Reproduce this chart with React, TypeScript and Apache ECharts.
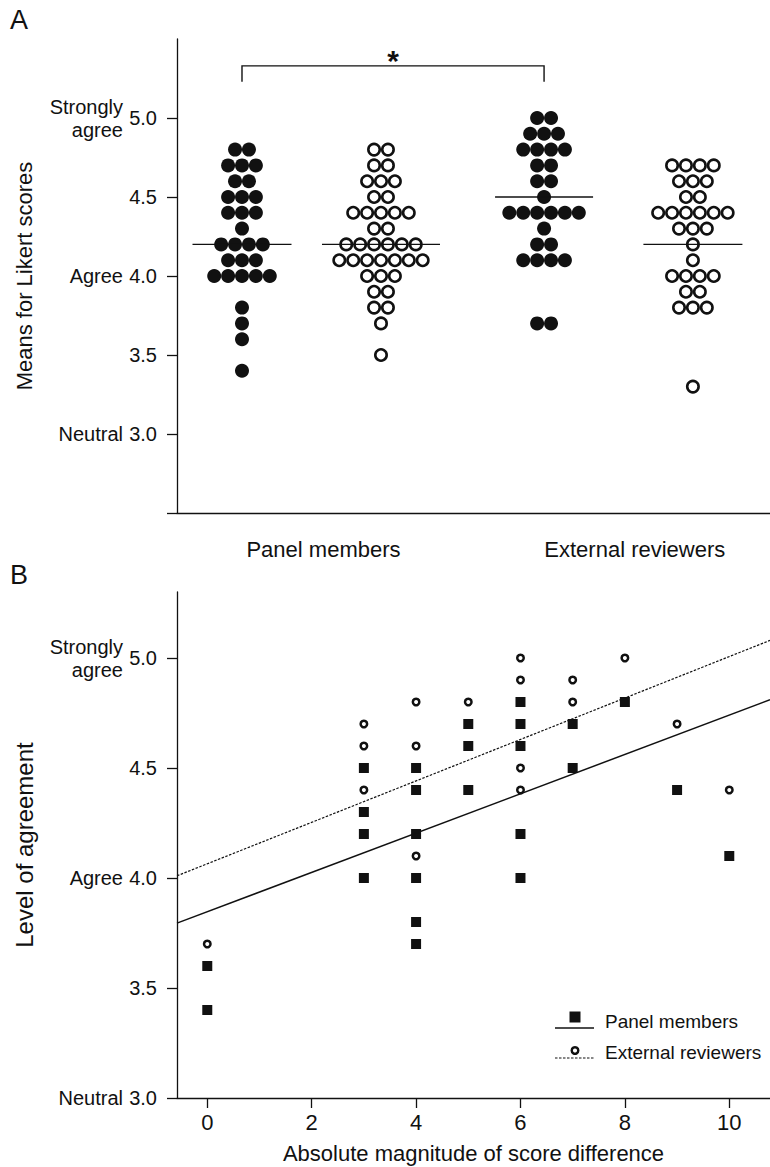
import React, { useEffect, useRef } from "react";
import * as echarts from "echarts";

// ---------- Data (panel A: means for Likert scores, one value per dot) ----------
const categoryNames = ["Panel members", "External reviewers"];
const panelFilled = [4.8, 4.8, 4.7, 4.7, 4.7, 4.6, 4.6, 4.5, 4.5, 4.5, 4.4, 4.4, 4.4, 4.3, 4.2, 4.2, 4.2, 4.2, 4.1, 4.1, 4.1, 4.0, 4.0, 4.0, 4.0, 4.0, 3.8, 3.7, 3.6, 3.4];
const panelOpen = [4.8, 4.8, 4.7, 4.7, 4.6, 4.6, 4.6, 4.5, 4.5, 4.4, 4.4, 4.4, 4.4, 4.4, 4.3, 4.3, 4.2, 4.2, 4.2, 4.2, 4.2, 4.2, 4.1, 4.1, 4.1, 4.1, 4.1, 4.1, 4.1, 4.0, 4.0, 4.0, 3.9, 3.9, 3.8, 3.8, 3.7, 3.5];
const externalFilled = [5.0, 5.0, 4.9, 4.9, 4.9, 4.8, 4.8, 4.8, 4.8, 4.7, 4.7, 4.6, 4.6, 4.5, 4.4, 4.4, 4.4, 4.4, 4.4, 4.4, 4.3, 4.2, 4.2, 4.1, 4.1, 4.1, 4.1, 3.7, 3.7];
const externalOpen = [4.7, 4.7, 4.7, 4.7, 4.6, 4.6, 4.6, 4.5, 4.5, 4.4, 4.4, 4.4, 4.4, 4.4, 4.4, 4.3, 4.3, 4.3, 4.2, 4.1, 4.0, 4.0, 4.0, 4.0, 3.9, 3.9, 3.8, 3.8, 3.8, 3.3];
const groupMeans = [4.2, 4.2, 4.5, 4.2];
const likertTicks = [3.0, 3.5, 4.0, 4.5, 5.0];

// ---------- Data (panel B: level of agreement vs score difference) ----------
const magnitudeTicks = [0, 2, 4, 6, 8, 10];
const panelPoints = [
  [0, 3.6], [0, 3.4],
  [3, 4.5], [3, 4.3], [3, 4.2], [3, 4.0],
  [4, 4.5], [4, 4.4], [4, 4.2], [4, 4.0], [4, 3.8], [4, 3.7],
  [5, 4.7], [5, 4.6], [5, 4.4],
  [6, 4.8], [6, 4.7], [6, 4.6], [6, 4.2], [6, 4.0],
  [7, 4.7], [7, 4.5],
  [8, 4.8],
  [9, 4.4],
  [10, 4.1],
];
const externalPoints = [
  [0, 3.7],
  [3, 4.7], [3, 4.6], [3, 4.4],
  [4, 4.8], [4, 4.6], [4, 4.1],
  [5, 4.8],
  [6, 5.0], [6, 4.9], [6, 4.5], [6, 4.4],
  [7, 4.9], [7, 4.8],
  [8, 5.0],
  [9, 4.7],
  [10, 4.4],
];
const panelFit = [[-0.58, 3.795], [10.78, 4.81]];
const externalFit = [[-0.58, 4.01], [10.78, 5.08]];

// ---------- Layout / style ----------
const FONT = "'Liberation Sans', Arial, Helvetica, sans-serif";
const INK = "#111";
const GROUP_POS = [0.1096, 0.344, 0.619, 0.87];
const LABEL_POS = [0.247, 0.772];
const MEAN_HALF = [49.5, 59, 49, 49.5];
const DOT_STEP = 13.9;

function swarm(values: number[], pos: number) {
  const counts = new Map<number, number>();
  values.forEach((v) => counts.set(v, (counts.get(v) || 0) + 1));
  const seen = new Map<number, number>();
  return values.map((v) => {
    const n = counts.get(v) as number;
    const i = seen.get(v) || 0;
    seen.set(v, i + 1);
    return [pos, v, i - (n - 1) / 2];
  });
}

function dotSeries(values: number[], pos: number, open: boolean) {
  return {
    type: "custom",
    xAxisIndex: 0,
    yAxisIndex: 0,
    clip: false,
    data: swarm(values, pos),
    renderItem: (_p: any, api: any) => {
      const c = api.coord([api.value(0), api.value(1)]);
      const cx = c[0] + api.value(2) * DOT_STEP;
      return open
        ? { type: "circle", shape: { cx, cy: c[1], r: 5.7 }, style: { fill: "#fff", stroke: INK, lineWidth: 2.6 } }
        : { type: "circle", shape: { cx, cy: c[1], r: 7 }, style: { fill: INK } };
    },
  };
}

const wordFormatter = (v: number) =>
  v === 5 ? "{s|Strongly}\n{g|agree}" : v === 4 ? "{s|Agree}" : v === 3 ? "{s|Neutral}" : "";
const wordRich = {
  s: { fontSize: 20, lineHeight: 23, color: INK, fontFamily: FONT },
  g: { fontSize: 20, lineHeight: 23, color: INK, fontFamily: FONT, padding: [0, 0, 0, 11] },
};

export default function App() {
  const ref = useRef<HTMLDivElement>(null);
  useEffect(() => {
    if (!ref.current) return;
    const chart = echarts.init(ref.current, null, { renderer: "svg" });
    const axisLine = { show: true, onZero: false, lineStyle: { color: INK, width: 1.3 } };
    const option: any = {
      animation: false,
      textStyle: { fontFamily: FONT, color: INK },
      grid: [
        { left: 177, width: 593, top: 39, height: 474, outerBoundsMode: "none" },
        { left: 177, width: 593, top: 592, height: 506, outerBoundsMode: "none" },
      ],
      xAxis: [
        {
          type: "value", gridIndex: 0, min: 0, max: 1, position: "bottom",
          axisLine, axisTick: { show: false }, splitLine: { show: false },
          axisLabel: {
            customValues: LABEL_POS, margin: 25, fontSize: 22, color: INK, fontFamily: FONT,
            formatter: (v: number) => (Math.abs(v - LABEL_POS[0]) < 1e-6 ? categoryNames[0] : categoryNames[1]),
          },
        },
        {
          type: "value", gridIndex: 1, min: -0.58, max: 10.78, position: "bottom",
          axisLine, splitLine: { show: false },
          axisTick: { customValues: magnitudeTicks, length: 10, lineStyle: { color: INK, width: 1.3 } },
          axisLabel: { customValues: magnitudeTicks, margin: 13, fontSize: 22, color: INK, fontFamily: FONT },
          name: "Absolute magnitude of score difference", nameLocation: "middle", nameGap: 44,
          nameTextStyle: { fontSize: 22, color: INK, fontFamily: FONT },
        },
      ],
      yAxis: [
        {
          type: "value", gridIndex: 0, min: 2.5, max: 5.5, position: "left",
          axisLine, splitLine: { show: false },
          axisTick: { customValues: [2.5, ...likertTicks], length: 10, lineStyle: { color: INK, width: 1.3 } },
          axisLabel: { customValues: likertTicks, margin: 20, fontSize: 20, color: INK, fontFamily: FONT, formatter: (v: number) => v.toFixed(1) },
          name: "Means for Likert scores", nameLocation: "middle", nameGap: 142,
          nameTextStyle: { fontSize: 22, color: INK, fontFamily: FONT },
        },
        {
          type: "value", gridIndex: 0, min: 2.5, max: 5.5, position: "left", offset: 0,
          axisLine: { show: false, onZero: false }, axisTick: { show: false }, splitLine: { show: false },
          axisLabel: { customValues: [3, 4, 5], margin: 54, formatter: wordFormatter, rich: wordRich },
        },
        {
          type: "value", gridIndex: 1, min: 3, max: 5.3, position: "left",
          axisLine, splitLine: { show: false },
          axisTick: { customValues: likertTicks, length: 10, lineStyle: { color: INK, width: 1.3 } },
          axisLabel: { customValues: likertTicks, margin: 20, fontSize: 20, color: INK, fontFamily: FONT, formatter: (v: number) => v.toFixed(1) },
          name: "Level of agreement", nameLocation: "middle", nameGap: 141,
          nameTextStyle: { fontSize: 24, color: INK, fontFamily: FONT },
        },
        {
          type: "value", gridIndex: 1, min: 3, max: 5.3, position: "left", offset: 0,
          axisLine: { show: false, onZero: false }, axisTick: { show: false }, splitLine: { show: false },
          axisLabel: { customValues: [3, 4, 5], margin: 54, formatter: wordFormatter, rich: wordRich },
        },
      ],
      series: [
        dotSeries(panelFilled, GROUP_POS[0], false),
        dotSeries(panelOpen, GROUP_POS[1], true),
        dotSeries(externalFilled, GROUP_POS[2], false),
        dotSeries(externalOpen, GROUP_POS[3], true),
        {
          type: "custom", xAxisIndex: 0, yAxisIndex: 0, clip: false, z: 5,
          data: groupMeans.map((m, i) => [GROUP_POS[i], m, MEAN_HALF[i]]),
          renderItem: (_p: any, api: any) => {
            const c = api.coord([api.value(0), api.value(1)]);
            const hw = api.value(2);
            return { type: "line", shape: { x1: c[0] - hw, y1: c[1], x2: c[0] + hw, y2: c[1] }, style: { stroke: INK, lineWidth: 1.4 } };
          },
        },
        {
          type: "custom", xAxisIndex: 0, yAxisIndex: 0, clip: false,
          data: [[GROUP_POS[0], GROUP_POS[2]]],
          renderItem: (_p: any, api: any) => {
            const a = api.coord([api.value(0), 5.23]);
            const b = api.coord([api.value(0), 5.33]);
            const c = api.coord([api.value(1), 5.33]);
            const d = api.coord([api.value(1), 5.23]);
            return {
              type: "group",
              children: [
                { type: "polyline", shape: { points: [a, b, c, d] }, style: { stroke: INK, lineWidth: 1.4, fill: null } },
                {
                  type: "text",
                  style: { text: "*", x: (b[0] + c[0]) / 2, y: b[1] - 5, fontSize: 30, fontWeight: "bold", fontFamily: FONT, fill: INK, align: "center", verticalAlign: "middle" },
                },
              ],
            };
          },
        },
        {
          type: "line", xAxisIndex: 1, yAxisIndex: 2, data: panelFit, symbol: "none",
          lineStyle: { color: INK, width: 1.5 },
        },
        {
          type: "line", xAxisIndex: 1, yAxisIndex: 2, data: externalFit, symbol: "none",
          lineStyle: { color: INK, width: 1.2, type: [2.5, 1.5] },
        },
        {
          type: "scatter", xAxisIndex: 1, yAxisIndex: 2, data: panelPoints, symbol: "rect", symbolSize: 10,
          itemStyle: { color: INK, opacity: 1 },
        },
        {
          type: "scatter", xAxisIndex: 1, yAxisIndex: 2, data: externalPoints, symbol: "circle", symbolSize: 6.5,
          itemStyle: { color: "#fff", borderColor: INK, borderWidth: 2.5, opacity: 1 },
        },
      ],
      graphic: [
        { type: "text", left: 10, top: 6, style: { text: "A", fontSize: 27, fontFamily: FONT, fill: INK } },
        { type: "text", left: 10, top: 561, style: { text: "B", fontSize: 27, fontFamily: FONT, fill: INK } },
        { type: "rect", shape: { x: 569.5, y: 1011.5, width: 11, height: 11 }, style: { fill: INK } },
        { type: "line", shape: { x1: 555, y1: 1028, x2: 594, y2: 1028 }, style: { stroke: INK, lineWidth: 1.5 } },
        { type: "text", x: 605, y: 1021, style: { text: "Panel members", fontSize: 19, fontFamily: FONT, fill: INK, verticalAlign: "middle" } },
        { type: "circle", shape: { cx: 575, cy: 1050.5, r: 3.3 }, style: { fill: "#fff", stroke: INK, lineWidth: 2.4 } },
        { type: "line", shape: { x1: 555, y1: 1058, x2: 594, y2: 1058 }, style: { stroke: INK, lineWidth: 1.2, lineDash: [2.5, 1.5] } },
        { type: "text", x: 605, y: 1052, style: { text: "External reviewers", fontSize: 19, fontFamily: FONT, fill: INK, verticalAlign: "middle" } },
      ],
    };
    chart.setOption(option);
    return () => chart.dispose();
  }, []);
  return <div ref={ref} style={{ position: "absolute", left: 0, top: 0, width: 770, height: 1167, background: "#fff" }} />;
}
